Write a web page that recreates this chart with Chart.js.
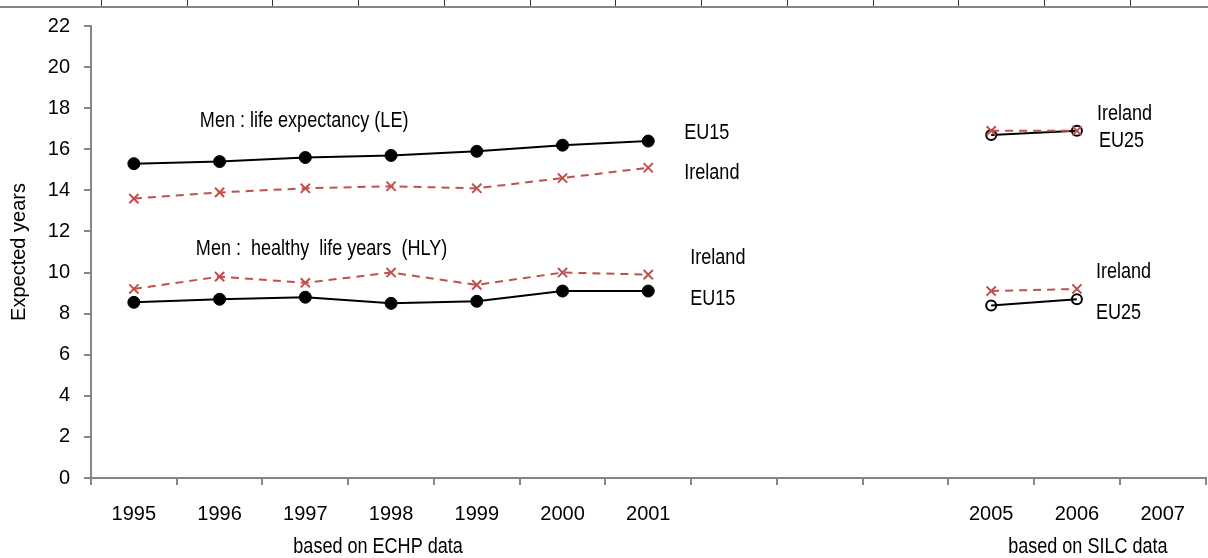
<!DOCTYPE html>
<html>
<head>
<meta charset="utf-8">
<script src="https://cdn.jsdelivr.net/npm/chart.js@4.4.1/dist/chart.umd.min.js"></script>
<style>
  html, body { margin: 0; padding: 0; background: #fff; overflow: hidden; }
  #wrap { position: relative; width: 1214px; height: 558px; }
</style>
</head>
<body>
<div id="wrap"><canvas id="chart" width="1214" height="558"></canvas></div>
<script>
// categories (2002-2004 have no data and no label)
const years = ["1995", "1996", "1997", "1998", "1999", "2000", "2001", "", "", "", "2005", "2006", "2007"];

// life expectancy, ECHP period
const leEu15 = [15.3, 15.4, 15.6, 15.7, 15.9, 16.2, 16.4, null, null, null, null, null, null];
const leIrelandEchp = [13.6, 13.9, 14.1, 14.2, 14.1, 14.6, 15.1, null, null, null, null, null, null];
// healthy life years, ECHP period
const hlyEu15 = [8.55, 8.7, 8.8, 8.5, 8.6, 9.1, 9.1, null, null, null, null, null, null];
const hlyIrelandEchp = [9.2, 9.8, 9.5, 10.0, 9.4, 10.0, 9.9, null, null, null, null, null, null];
// SILC period
const leEu25 = [null, null, null, null, null, null, null, null, null, null, 16.7, 16.9, null];
const leIrelandSilc = [null, null, null, null, null, null, null, null, null, null, 16.9, 16.9, null];
const hlyEu25 = [null, null, null, null, null, null, null, null, null, null, 8.4, 8.7, null];
const hlyIrelandSilc = [null, null, null, null, null, null, null, null, null, null, 9.1, 9.2, null];

const yTicks = { min: 0, max: 22, step: 2 };

const FONT = "'Liberation Sans', Arial, sans-serif";
const RED = "#C0504D";
const AXIS = "#868686";

// text notes: category index, value, pixel nudge from that point
const notes = [
  { text: "Men : life expectancy (LE)", i: 0, v: 17.4, dx: 66 },
  { text: "Men :  healthy  life years  (HLY)", i: 0, v: 11.17, dx: 62 },
  { text: "EU15", i: 6, v: 16.78, dx: 36 },
  { text: "Ireland", i: 6, v: 14.85, dx: 36 },
  { text: "Ireland", i: 6, v: 10.69, dx: 42 },
  { text: "EU15", i: 6, v: 8.7, dx: 42 },
  { text: "Ireland", i: 11, v: 17.7, dx: 20 },
  { text: "EU25", i: 11, v: 16.39, dx: 22 },
  { text: "Ireland", i: 11, v: 10.01, dx: 19 },
  { text: "EU25", i: 11, v: 8.03, dx: 19 }
];

function echpLine(label, data, dashed) {
  return dashed ? {
    label: label, data: data,
    borderColor: RED, borderWidth: 2, borderDash: [8, 6],
    pointStyle: "crossRot", pointRadius: 6.5, pointBorderWidth: 2,
    pointBorderColor: RED, pointBackgroundColor: RED
  } : {
    label: label, data: data,
    borderColor: "#000", borderWidth: 2,
    pointStyle: "circle", pointRadius: 6, pointBorderWidth: 1,
    pointBorderColor: "#000", pointBackgroundColor: "#000"
  };
}

function silcEu(label, data) {
  return {
    label: label, data: data,
    borderColor: "#000", borderWidth: 2,
    pointStyle: "circle", pointRadius: 5, pointBorderWidth: 2,
    pointBorderColor: "#000", pointBackgroundColor: "rgba(255,255,255,0)"
  };
}

// narrow text, the original uses a condensed face
function narrowText(ctx, text, x, y) {
  ctx.save();
  ctx.translate(x, y);
  ctx.scale(0.82, 1);
  ctx.fillText(text, 0, 0);
  ctx.restore();
}

const decor = {
  id: "decor",
  afterDraw(chart) {
    const ctx = chart.ctx;
    const xs = chart.scales.x, ys = chart.scales.y;
    const step = (xs.right - xs.left) / years.length;
    ctx.save();
    // clipped table row at the very top
    ctx.strokeStyle = "#333";
    ctx.lineWidth = 1;
    for (let k = 0; k < years.length; k++) {
      const x = Math.round(xs.left + k * step + 10) + 0.5;
      ctx.beginPath(); ctx.moveTo(x, 0); ctx.lineTo(x, 6); ctx.stroke();
    }
    ctx.strokeStyle = AXIS;
    ctx.lineWidth = 2;
    ctx.beginPath(); ctx.moveTo(0, 7); ctx.lineTo(chart.width, 7); ctx.stroke();

    ctx.fillStyle = "#000";
    ctx.font = "22px " + FONT;
    ctx.textAlign = "left";
    ctx.textBaseline = "middle";
    notes.forEach(n => {
      narrowText(ctx, n.text, xs.getPixelForValue(n.i) + n.dx, ys.getPixelForValue(n.v));
    });

    ctx.textAlign = "center";
    narrowText(ctx, "based on ECHP data", xs.getPixelForValue(3) - 13, 547);
    narrowText(ctx, "based on SILC data", xs.getPixelForValue(11) + 11, 547);
    ctx.restore();
  }
};

new Chart(document.getElementById("chart"), {
  type: "line",
  data: {
    labels: years,
    datasets: [
      echpLine("EU15 LE", leEu15, false),
      echpLine("Ireland LE", leIrelandEchp, true),
      echpLine("EU15 HLY", hlyEu15, false),
      echpLine("Ireland HLY", hlyIrelandEchp, true),
      echpLine("Ireland LE SILC", leIrelandSilc, true),
      echpLine("Ireland HLY SILC", hlyIrelandSilc, true),
      silcEu("EU25 LE", leEu25),
      silcEu("EU25 HLY", hlyEu25)
    ]
  },
  options: {
    responsive: false,
    animation: false,
    spanGaps: false,
    layout: { padding: { top: 23, right: 0, left: 0, bottom: 0 } },
    elements: { line: { tension: 0 } },
    plugins: { legend: { display: false }, tooltip: { enabled: false } },
    scales: {
      x: {
        offset: true,
        afterFit: s => { s.height = 80; },
        grid: { offset: true, drawOnChartArea: false, drawTicks: true, tickLength: 7, color: AXIS, lineWidth: 2 },
        border: { color: AXIS, width: 2 },
        ticks: { color: "#000", font: { family: FONT, size: 20 }, padding: 17, maxRotation: 0, autoSkip: false }
      },
      y: {
        min: yTicks.min, max: yTicks.max,
        afterFit: s => { s.width = 91; },
        grid: { drawOnChartArea: false, drawTicks: true, tickLength: 7, color: AXIS, lineWidth: 2 },
        border: { color: AXIS, width: 2 },
        ticks: { stepSize: yTicks.step, color: "#000", font: { family: FONT, size: 20 }, padding: 14 },
        title: { display: true, text: "Expected years", color: "#000", font: { family: FONT, size: 20 }, padding: { top: 7, bottom: 0 } }
      }
    }
  },
  plugins: [decor]
});
</script>
</body>
</html>
